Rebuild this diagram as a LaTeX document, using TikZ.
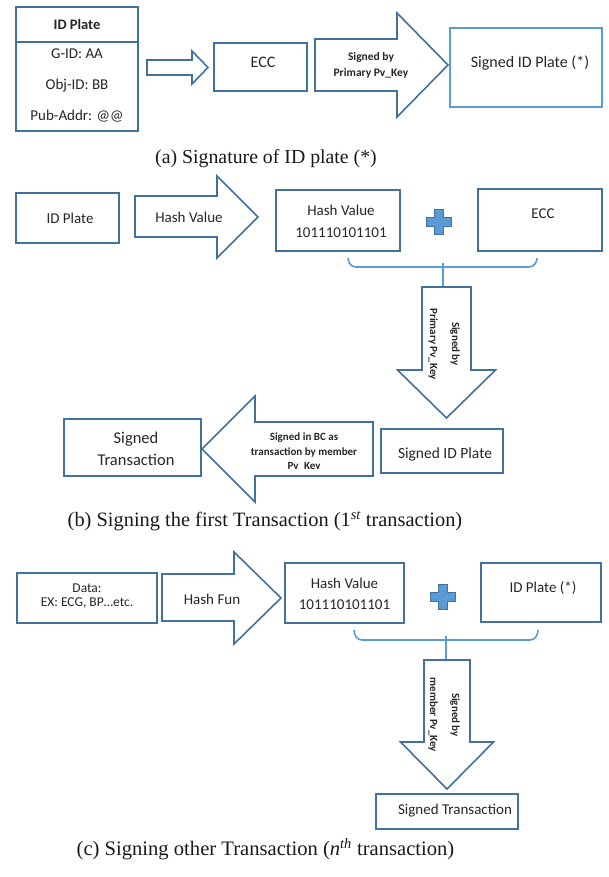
\documentclass[tikz,border=0pt]{standalone}
\usepackage{fontspec}
\newfontfamily\carl{Carlito}
\newfontfamily\capserif{Liberation Serif}
\definecolor{bdark}{HTML}{41719C}
\definecolor{blight}{HTML}{5B9BD5}
\tikzset{
  box/.style={draw=bdark, line width=1.6pt, inner sep=0pt, fill=white},
  txt/.style={font=\carl\fontsize{15}{21}\selectfont, align=center, inner sep=0pt, text=black!85},
  btxt/.style={font=\carl\bfseries\fontsize{11}{14}\selectfont, align=center, inner sep=0pt, text=black!85},
  harrow/.style={draw=bdark, line width=1.6pt, fill=white, line join=miter},
  bracket/.style={draw=blight, line width=1.6pt},
  plussign/.style={fill=blight, draw=bdark, line width=0.8pt, line join=miter},
  captxt/.style={font=\capserif\fontsize{19.8}{22}\selectfont, inner sep=0pt, text=black!90}
}
\begin{document}
\begin{tikzpicture}[x=1pt,y=-1pt]
\useasboundingbox (0,0) rectangle (608,877);
% ---------------- (a) ----------------
\node[box, minimum width=122pt, minimum height=124pt] (idp) at (77,69) {};
\draw[bdark, line width=1.6pt] (idp.west |- 0,42) -- (idp.east |- 0,42);
\node[txt, font=\carl\bfseries\fontsize{14.5}{17}\selectfont] (idpt) at (77,24) {ID Plate};
\node[txt] (gid) at (77,54) {G-ID: AA};
\node[txt] (oid) at (77,86) {Obj-ID: BB};
\node[txt] (pad) at (77,116) {Pub-Addr: @@};
\draw[harrow] (147,60) -- (192,60) -- (192,51) -- (208,67.5) -- (192,84) -- (192,75) -- (147,75) -- cycle;
\node[box, minimum width=93pt, minimum height=48pt] (ecc1) at (260.5,67) {};
\node[txt, font=\carl\fontsize{16}{20}\selectfont] (ecc1t) at (263,62) {ECC};
\draw[harrow] (315,39) -- (397,39) -- (397,13) -- (448,65) -- (397,117) -- (397,91) -- (315,91) -- cycle;
\node[btxt, font=\carl\bfseries\fontsize{11.5}{14}\selectfont] (sgn1) at (371,65) {Signed by\\[2pt]Primary Pv\_Key};
\node[box, draw=blight, minimum width=152pt, minimum height=79pt] (sip) at (526,67.5) {};
\node[txt, font=\carl\fontsize{16}{20}\selectfont] (sipt) at (530,63) {Signed ID Plate (*)};
\node[captxt] (capa) at (266,159) {(a) Signature of ID plate (*)};
% ---------------- (b) ----------------
\node[box, minimum width=103pt, minimum height=50pt] (idp2) at (67.5,218) {};
\node[txt] (idp2t) at (70,218) {ID Plate};
\draw[harrow] (135,196) -- (217,196) -- (217,176) -- (258,217) -- (217,258) -- (217,237) -- (135,237) -- cycle;
\node[txt] (hvl) at (189,217) {Hash Value};
\node[box, minimum width=124pt, minimum height=61pt] (hv1) at (338,220.5) {};
\node[txt, font=\carl\fontsize{15}{18}\selectfont] (hv1t) at (341,221) {Hash Value\\[4pt]101110101101};
\draw[plussign] (439,222) ++(-4.5,-12.5) -- ++(9,0) -- ++(0,8) -- ++(8,0) -- ++(0,9) -- ++(-8,0) -- ++(0,8) -- ++(-9,0) -- ++(0,-8) -- ++(-8,0) -- ++(0,-9) -- ++(8,0) -- cycle;
\node[box, minimum width=124pt, minimum height=62pt] (ecc2) at (540,220) {};
\node[txt] (ecc2t) at (543,214) {ECC};
\coordinate (brb) at (443,267);
\coordinate (ab) at (446.5,287);
\draw[bracket] (348,258) to[out=-90,in=180] (356,267) -- (529,267) to[out=0,in=-90] (537,258);
\draw[bracket] (brb |- 0,263) -- (brb) -- (brb |- ab);
\draw[harrow] (422,287) -- (471,287) -- (471,370) -- (495.5,370) -- (446.5,418) -- (397.5,370) -- (422,370) -- cycle;
\node[btxt, rotate=-90] (sgn2) at (444,344) {Signed by\\[8pt]Primary Pv\_Key};
\node[box, minimum width=122pt, minimum height=44pt] (sip2) at (442,451) {};
\node[txt, font=\carl\fontsize{15.5}{20}\selectfont] (sip2t) at (445,454) {Signed ID Plate};
\draw[harrow] (373,422) -- (255,422) -- (255,396) -- (202,449) -- (255,502) -- (255,476) -- (373,476) -- cycle;
\begin{scope}
\clip (206,423) rectangle (372,468.5);
\node[btxt, font=\carl\bfseries\fontsize{11}{14.5}\selectfont] (sgn3) at (304,452.5) {Signed in BC as\\transaction by member\\Pv\_Key};
\end{scope}
\node[box, minimum width=137pt, minimum height=57pt] (st1) at (132.5,447.5) {};
\node[txt, font=\carl\fontsize{16.5}{19}\selectfont] (st1t) at (136,449) {Signed\\[3pt]Transaction};
\node[captxt, font=\capserif\fontsize{20.4}{22}\selectfont] (capb) at (265,521) {(b) Signing the first Transaction (1\textsuperscript{\itshape st} transaction)};
% ---------------- (c) ----------------
\node[box, minimum width=140pt, minimum height=50pt] (data) at (87,598) {};
\node[txt, font=\carl\fontsize{13.5}{14.5}\selectfont] (datat) at (87,596) {Data:\\EX: ECG, BP\ldots etc.};
\draw[harrow] (162,574) -- (234,574) -- (234,552) -- (281,598) -- (234,644) -- (234,621) -- (162,621) -- cycle;
\node[txt] (hfl) at (212,599) {Hash Fun};
\node[box, minimum width=119pt, minimum height=60pt] (hv2) at (344.5,593) {};
\node[txt, font=\carl\fontsize{15}{18}\selectfont] (hv2t) at (344.5,593.5) {Hash Value\\[3pt]101110101101};
\draw[plussign] (443,597) ++(-4.5,-12.5) -- ++(9,0) -- ++(0,8) -- ++(8,0) -- ++(0,9) -- ++(-8,0) -- ++(0,8) -- ++(-9,0) -- ++(0,-8) -- ++(-8,0) -- ++(0,-9) -- ++(8,0) -- cycle;
\node[box, minimum width=120pt, minimum height=59pt] (idps) at (541,592.5) {};
\node[txt] (idpst) at (543,588) {ID Plate (*)};
\coordinate (brc) at (446,640);
\coordinate (ac) at (447,660);
\draw[bracket] (354,630) to[out=-90,in=180] (362,640) -- (530,640) to[out=0,in=-90] (538,630);
\draw[bracket] (brc |- 0,636) -- (brc) -- (brc |- ac);
\draw[harrow] (424,660) -- (470,660) -- (470,742) -- (493.5,742) -- (447,789) -- (400.5,742) -- (424,742) -- cycle;
\node[btxt, rotate=-90] (sgn4) at (444,715) {Signed by\\[8pt]member Pv\_Key};
\node[box, minimum width=142pt, minimum height=35pt] (st2) at (447,811.5) {};
\node[txt] (st2t) at (455,811) {Signed Transaction};
\node[captxt, font=\capserif\fontsize{20.6}{22}\selectfont] (capc) at (265.5,849) {(c) Signing other Transaction (\textit{n}\textsuperscript{\itshape th} transaction)};
\end{tikzpicture}
\end{document}
